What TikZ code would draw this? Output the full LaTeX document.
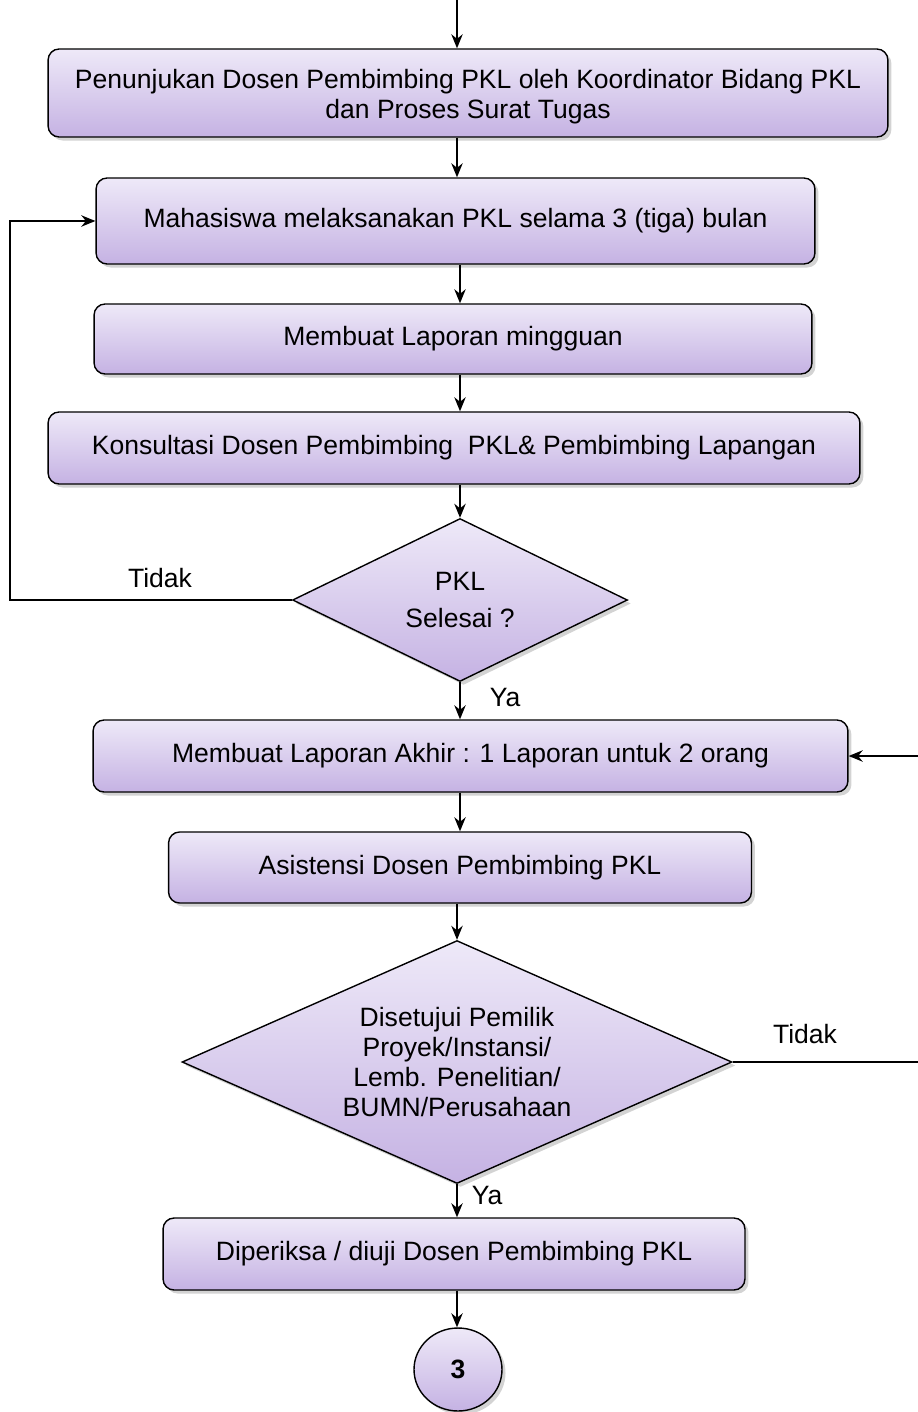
\documentclass[tikz,border=0pt]{standalone}
\usepackage{fontspec}
\setmainfont{Liberation Sans}
\usetikzlibrary{arrows.meta,shapes.geometric,shadows}
\definecolor{lilatop}{HTML}{EEE9F8}
\definecolor{lilabot}{HTML}{C5B2E3}
\begin{document}
\begin{tikzpicture}[x=0.02cm, y=-0.02cm, thick,
		font=\fontsize{15.1}{17.2}\selectfont,
		>={Stealth[length=8pt,width=6.5pt]},
		langkah/.style={draw, rounded corners=0.22cm, align=center, inner sep=0pt,
			top color=lilatop, bottom color=lilabot,
			drop shadow={opacity=0.35, shadow xshift=2pt, shadow yshift=-2pt}},
		cek/.style={draw, diamond, align=center, inner sep=0pt,
			top color=lilatop, bottom color=lilabot,
			drop shadow={opacity=0.35, shadow xshift=2pt, shadow yshift=-2pt}},
		label/.style={inner sep=0pt}]
		\useasboundingbox (0,0) rectangle (917,1412);
		
		%boxes
		\node[langkah, minimum width=16.8cm, minimum height=1.76cm] (tunjuk) at (468,93)
			{\raisebox{-6pt}[0pt][0pt]{\begin{tabular}{@{}c@{}}Penunjukan Dosen Pembimbing PKL oleh Koordinator Bidang PKL\\dan Proses Surat Tugas\end{tabular}}};
		\node[langkah, minimum width=14.38cm, minimum height=1.72cm] (laksana) at (455.5,221)
			{Mahasiswa melaksanakan PKL selama 3 (tiga) bulan};
		\node[langkah, minimum width=14.36cm, minimum height=1.4cm] (mingguan) at (453,339)
			{Membuat Laporan mingguan};
		\node[langkah, minimum width=16.24cm, minimum height=1.44cm] (konsul) at (454,448)
			{Konsultasi Dosen Pembimbing\ \ PKL\& Pembimbing Lapangan};
		\node[cek, aspect=2.05, minimum width=6.7cm, minimum height=3.26cm] (selesai) at (460,600)
			{PKL\\[4pt]Selesai ?};
		\node[langkah, minimum width=15.1cm, minimum height=1.44cm] (akhir) at (470.5,756)
			{Membuat Laporan Akhir : 1 Laporan untuk 2 orang};
		\node[langkah, minimum width=11.66cm, minimum height=1.42cm] (asist) at (460,867.5)
			{Asistensi Dosen Pembimbing PKL};
		\node[cek, aspect=2.26, minimum width=11cm, minimum height=4.86cm] (setuju) at (457,1062)
			{Disetujui Pemilik\\Proyek/Instansi/\\Lemb. Penelitian/\\BUMN/Perusahaan};
		\node[langkah, minimum width=11.64cm, minimum height=1.44cm] (periksa) at (454,1254)
			{Diperiksa / diuji Dosen Pembimbing PKL};
		\node[draw, ellipse, inner sep=0pt, minimum width=1.76cm, minimum height=1.66cm,
			top color=lilatop, bottom color=lilabot,
			drop shadow={opacity=0.35, shadow xshift=2pt, shadow yshift=-2pt}] (tiga) at (458,1369.5)
			{\textbf{3}};
		
		%labels
		\node[label] (tidakA) at (160,578) {Tidak};
		\node[label] (yaA) at (505,697) {Ya};
		\node[label] (tidakB) at (805,1034) {Tidak};
		\node[label] (yaB) at (487,1195) {Ya};
		
		%main flow
		\coordinate (awal) at (457,0);
		\coordinate (poros) at (460,0);
		\coordinate (kiri) at (10,0);
		\coordinate (kanan) at (921,0);
		\draw[->] (awal) -- (tunjuk.north -| awal);
		\draw[->] (tunjuk.south -| awal) -- (laksana.north -| awal);
		\draw[->] (laksana.south -| poros) -- (mingguan.north -| poros);
		\draw[->] (mingguan.south -| poros) -- (konsul.north -| poros);
		\draw[->] (konsul.south -| poros) -- (selesai.north);
		\draw[->] (selesai.south) -- (akhir.north -| selesai.south);
		\draw[->] (akhir.south -| poros) -- (asist.north -| poros);
		\draw[->] (asist.south -| setuju.north) -- (setuju.north);
		\draw[->] (setuju.south) -- (periksa.north -| setuju.south);
		\draw[->] (periksa.south -| setuju.south) -- (tiga.north -| setuju.south);
		
		%loops back
		\draw[->] (selesai.west) -- (selesai.west -| kiri) |- (laksana.west);
		\draw[->] (setuju.east) -- (setuju.east -| kanan) |- (akhir.east);
\end{tikzpicture}
\end{document}
